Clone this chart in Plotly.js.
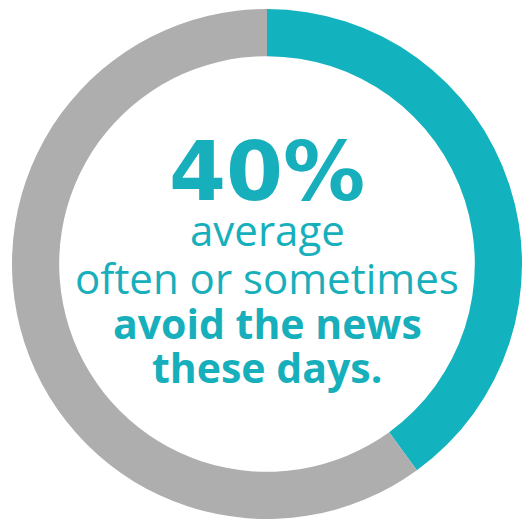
<!DOCTYPE html>
<html>
<head>
<meta charset="utf-8">
<script src="https://cdn.plot.ly/plotly-3.0.1.min.js"></script>
<style>html,body{margin:0;padding:0;background:#fff;}#chart{width:526px;height:522px;}</style>
</head>
<body>
<div id="chart"></div>
<script>
const labels = ["Often or sometimes avoid the news", "Other"];
const values = [40, 60];
const colors = ["#12B2BE", "#AEAEAE"];
const headline = "40%";
const textLines = ["average", "often or sometimes", "<b>avoid the news</b>", "<b>these days.</b>"];

const teal = "#16AFBB";
const W = 526, H = 522, cx = 267, cy = 264, R = 255;

const data = [{
  type: "pie",
  labels: labels,
  values: values,
  hole: 0.815,
  sort: false,
  direction: "clockwise",
  rotation: 0,
  textinfo: "none",
  hoverinfo: "label+percent",
  marker: {colors: colors, line: {width: 0}},
  domain: {x: [(cx - R) / W, (cx + R) / W], y: [(H - cy - R) / H, (H - cy + R) / H]},
  showlegend: false
}];

const lineY = [230, 277, 323, 367];
const lineSize = [42, 42, 41, 41];
const annotations = [{
  text: "<b>" + headline + "</b>",
  x: cx / W, y: 1 - 171 / H, xref: "paper", yref: "paper",
  xanchor: "center", yanchor: "middle", showarrow: false,
  font: {family: "DejaVu Sans", size: 82, color: teal}
}];
textLines.forEach((t, i) => {
  annotations.push({
    text: t, x: cx / W, y: 1 - lineY[i] / H, xref: "paper", yref: "paper",
    xanchor: "center", yanchor: "middle", showarrow: false,
    font: {family: "Open Sans", size: lineSize[i], color: teal}
  });
});

const layout = {
  width: W, height: H,
  margin: {l: 0, r: 0, t: 0, b: 0},
  paper_bgcolor: "#fff",
  annotations: annotations
};
Plotly.newPlot("chart", data, layout, {displayModeBar: false, staticPlot: true});
</script>
</body>
</html>
